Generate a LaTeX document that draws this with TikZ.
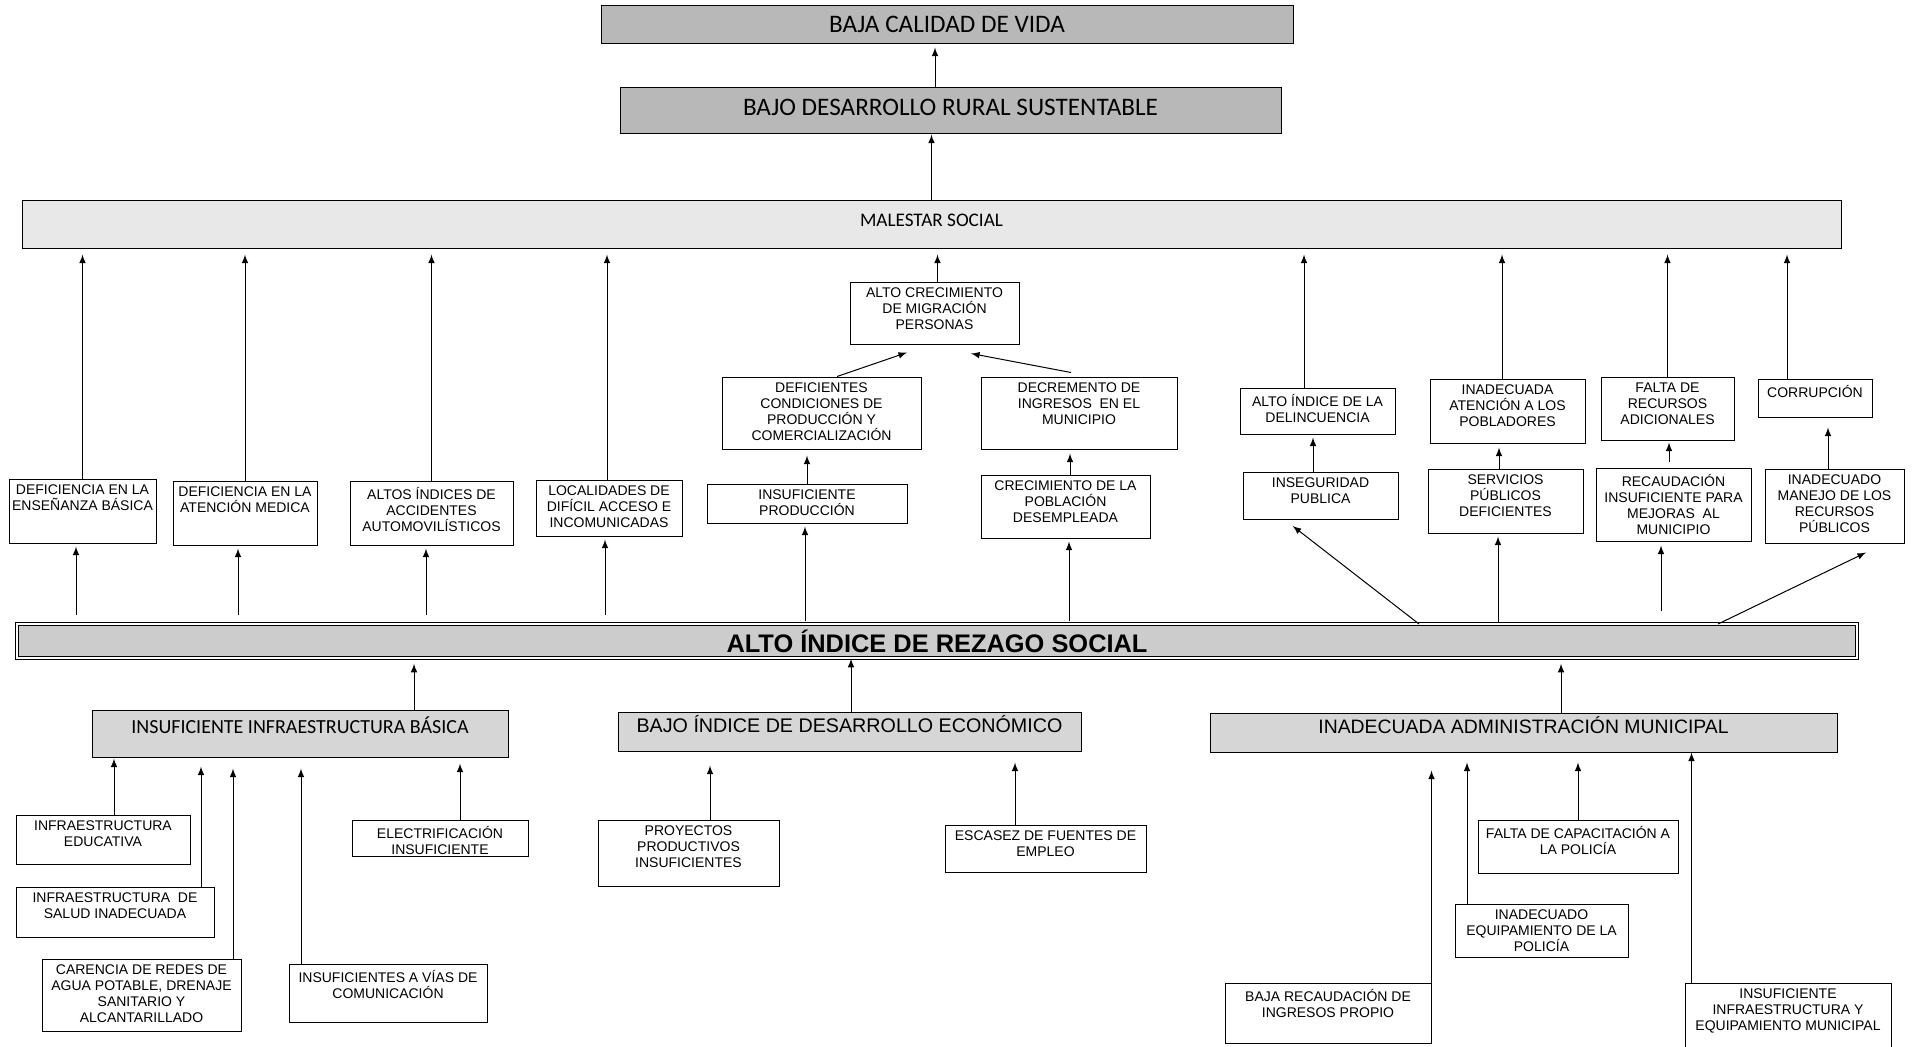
\documentclass[tikz,border=0pt]{standalone}
\usepackage{fontspec}
\setmainfont{Liberation Sans}
\newfontfamily\calibri{Carlito}
\usepackage{tikz}
\usetikzlibrary{arrows,positioning,fit}

\tikzset{
  caja/.style={draw, line width=0.5pt, inner sep=0pt},
  encab/.style={draw, line width=0.5pt, inner sep=0pt},
  texto/.style={anchor=north, align=center, inner sep=3pt, font=\fontsize{7}{8}\selectfont},
  flecha/.style={-latex, line width=0.5pt},
}

\begin{document}
\begin{tikzpicture}[x=0.5pt,y=-0.5pt]
\useasboundingbox (0,0) rectangle (1916,1046);

% efectos
\node[encab, fill=black!28, fit={(601,5) (1293,43)}, label={[font=\calibri\fontsize{12.6}{14}\selectfont]center:BAJA CALIDAD DE VIDA}] (calidad) {};
\node[encab, fill=black!28, fit={(620,87) (1281,133)}, label={[font=\calibri\fontsize{12.6}{14}\selectfont,yshift=1.5pt]center:BAJO DESARROLLO RURAL SUSTENTABLE}] (desarrollo) {};
\node[encab, fill=black!9, fit={(22,200) (1841,248)}, label={[font=\calibri\fontsize{9.6}{11}\selectfont,yshift=2pt]center:MALESTAR SOCIAL}] (malestar) {};

\node[caja, fit={(9,479) (156,543)}, label={[texto]north:{DEFICIENCIA EN LA\\ENSEÑANZA BÁSICA}}] (ensenanza) {};
\node[caja, fit={(173,481) (317,545)}, label={[texto]north:{DEFICIENCIA EN LA\\ATENCIÓN MEDICA}}] (atencion) {};
\node[caja, fit={(350,481) (513,545)}, label={[texto]north:{ALTOS ÍNDICES DE\\ACCIDENTES\\AUTOMOVILÍSTICOS}}] (accidentes) {};
\node[caja, fit={(536,480) (682,536)}, label={[texto]north:{LOCALIDADES DE\\DIFÍCIL ACCESO E\\INCOMUNICADAS}}] (localidades) {};
\node[caja, fit={(707,484) (907,523)}, label={[texto]north:{INSUFICIENTE\\PRODUCCIÓN}}] (insprod) {};
\node[caja, fit={(722,377) (921,449)}, label={[texto]north:{DEFICIENTES\\CONDICIONES DE\\PRODUCCIÓN Y\\COMERCIALIZACIÓN}}] (condiciones) {};
\node[caja, fit={(850,282) (1019,344)}, label={[texto]north:{ALTO CRECIMIENTO\\DE MIGRACIÓN\\PERSONAS}}] (migracion) {};
\node[caja, fit={(981,377) (1177,449)}, label={[texto]north:{DECREMENTO DE\\INGRESOS\ \ EN EL\\MUNICIPIO}}] (decremento) {};
\node[caja, fit={(981,475) (1150,538)}, label={[texto]north:{CRECIMIENTO DE LA\\POBLACIÓN\\DESEMPLEADA}}] (desempleada) {};
\node[caja, fit={(1240,388) (1395,434)}, label={[texto]north:{ALTO ÍNDICE DE LA\\DELINCUENCIA}}] (delincuencia) {};
\node[caja, fit={(1243,472) (1398,519)}, label={[texto]north:{INSEGURIDAD\\PUBLICA}}] (inseguridad) {};
\node[caja, fit={(1430,379) (1585,443)}, label={[texto]north:{INADECUADA\\ATENCIÓN A LOS\\POBLADORES}}] (pobladores) {};
\node[caja, fit={(1428,469) (1583,533)}, label={[texto]north:{SERVICIOS\\PÚBLICOS\\DEFICIENTES}}] (servicios) {};
\node[caja, fit={(1601,377) (1734,440)}, label={[texto]north:{FALTA DE\\RECURSOS\\ADICIONALES}}] (faltarec) {};
\node[caja, fit={(1596,468) (1751,541)}, label={[texto]north:{RECAUDACIÓN\\INSUFICIENTE PARA\\MEJORAS\ \ AL\\MUNICIPIO}}] (recaudacion) {};
\node[caja, fit={(1758,379) (1872,417)}, label={[texto]north:{CORRUPCIÓN}}] (corrupcion) {};
\node[caja, fit={(1765,469) (1904,543)}, label={[texto]north:{INADECUADO\\MANEJO DE LOS\\RECURSOS\\PÚBLICOS}}] (manejo) {};

% problema central
\node[encab, fill=black!20, line width=0.7pt, double, double distance=0.8pt, fit={(17,624) (1857,658)}, label={[font=\bfseries\fontsize{12.7}{14}\selectfont]center:ALTO ÍNDICE DE REZAGO SOCIAL}] (rezago) {};

% causas
\node[encab, fill=black!16, fit={(92,710) (508,757)}, label={[font=\calibri\fontsize{10}{12}\selectfont,yshift=4pt]center:INSUFICIENTE INFRAESTRUCTURA BÁSICA}] (infrab) {};
\node[encab, fill=black!16, fit={(618,712) (1081,751)}, label={[font=\fontsize{9.85}{12}\selectfont,yshift=3.5pt]center:BAJO ÍNDICE DE DESARROLLO ECONÓMICO}] (econ) {};
\node[encab, fill=black!16, fit={(1210,713) (1837,752)}, label={[font=\fontsize{9.7}{12}\selectfont,yshift=3.5pt]center:INADECUADA ADMINISTRACIÓN MUNICIPAL}] (admin) {};

\node[caja, fit={(16,815) (190,864)}, label={[texto]north:{INFRAESTRUCTURA\\EDUCATIVA}}] (educativa) {};
\node[caja, fit={(16,887) (214,937)}, label={[texto]north:{INFRAESTRUCTURA\ \ DE\\SALUD INADECUADA}}] (salud) {};
\node[caja, fit={(42,959) (241,1031)}, label={[texto]north:{CARENCIA DE REDES DE\\AGUA POTABLE, DRENAJE\\SANITARIO Y\\ALCANTARILLADO}}] (carencia) {};
\node[caja, fit={(289,964) (487,1022)}, label={[texto]north:{INSUFICIENTES A VÍAS DE\\COMUNICACIÓN}}] (vias) {};
\node[caja, fit={(352,820) (528,856)}, label={[texto]north:{ELECTRIFICACIÓN\\INSUFICIENTE}}] (electrificacion) {};
\node[caja, fit={(598,820) (779,886)}, label={[texto]north:{PROYECTOS\\PRODUCTIVOS\\INSUFICIENTES}}] (proyectos) {};
\node[caja, fit={(945,825) (1146,872)}, label={[texto]north:{ESCASEZ DE FUENTES DE\\EMPLEO}}] (escasez) {};
\node[caja, fit={(1478,820) (1678,873)}, label={[texto]north:{FALTA DE CAPACITACIÓN A\\LA POLICÍA}}] (capacitacion) {};
\node[caja, fit={(1455,904) (1628,957)}, label={[texto]north:{INADECUADO\\EQUIPAMIENTO DE LA\\POLICÍA}}] (equipamiento) {};
\node[caja, fit={(1225,983) (1431,1043)}, label={[texto]north:{BAJA RECAUDACIÓN DE\\INGRESOS PROPIO}}] (bajarec) {};
\node[caja, fit={(1685,983) (1891,1050)}, label={[texto]north:{INSUFICIENTE\\INFRAESTRUCTURA Y\\EQUIPAMIENTO MUNICIPAL}}] (insufinfra) {};

\coordinate (rzA) at (1419,624);
\coordinate (rzB) at (1718,624);

% flechas superiores
\draw[flecha, shorten >=2pt] ([xshift=-7.75pt]desarrollo.north) -- ([xshift=-7.75pt]desarrollo.north |- calidad.south);
\draw[flecha, shorten >=0.5pt] (malestar.north) -- (malestar.north |- desarrollo.south);
\draw[flecha, shorten >=3pt] (ensenanza.north) -- (ensenanza.north |- malestar.south);
\draw[flecha, shorten >=3pt] (atencion.north) -- (atencion.north |- malestar.south);
\draw[flecha, shorten >=3pt] (accidentes.north) -- (accidentes.north |- malestar.south);
\draw[flecha, shorten >=3pt] ([xshift=-1pt]localidades.north) -- ([xshift=-1pt]localidades.north |- malestar.south);
\draw[flecha, shorten >=3pt] ([xshift=1.5pt]migracion.north) -- ([xshift=1.5pt]migracion.north |- malestar.south);
\draw[flecha, shorten >=3pt] ([xshift=-6.75pt]delincuencia.north) -- ([xshift=-6.75pt]delincuencia.north |- malestar.south);
\draw[flecha, shorten >=3pt] ([xshift=-2.75pt]pobladores.north) -- ([xshift=-2.75pt]pobladores.north |- malestar.south);
\draw[flecha, shorten >=3pt] (faltarec.north) -- (faltarec.north |- malestar.south);
\draw[flecha, shorten >=3pt] ([xshift=-14pt]corrupcion.north) -- ([xshift=-14pt]corrupcion.north |- malestar.south);

\draw[flecha] ([xshift=7.75pt]condiciones.north) -- ([xshift=-13.75pt,yshift=-4pt]migracion.south);
\draw[flecha] ([xshift=-4pt,yshift=2pt]decremento.north) -- ([xshift=18.25pt,yshift=-4.5pt]migracion.south);
\draw[flecha, shorten >=3pt] (insprod.north) -- (insprod.north |- condiciones.south);
\draw[flecha, shorten >=2pt] ([xshift=2.25pt]desempleada.north) -- ([xshift=2.25pt]desempleada.north |- decremento.south);
\draw[flecha, shorten >=1.5pt] ([xshift=-3.75pt]inseguridad.north) -- ([xshift=-3.75pt]inseguridad.north |- delincuencia.south);
\draw[flecha, shorten >=2pt] ([xshift=-3.25pt]servicios.north) -- ([xshift=-3.25pt]servicios.north |- pobladores.south);
\draw[flecha, shorten <=3pt, shorten >=1pt] ([xshift=-2.25pt]recaudacion.north) -- ([xshift=-2.25pt]recaudacion.north |- faltarec.south);
\draw[flecha, shorten >=5pt] ([xshift=-3.25pt]manejo.north) -- ([xshift=-3.25pt]manejo.north |- corrupcion.south);

% desde el rezago
\draw[flecha, shorten <=4pt, shorten >=1.5pt] ([xshift=-3.25pt]ensenanza.south |- rezago.north) -- ([xshift=-3.25pt]ensenanza.south);
\draw[flecha, shorten <=4pt, shorten >=1.5pt] ([xshift=-3.5pt]atencion.south |- rezago.north) -- ([xshift=-3.5pt]atencion.south);
\draw[flecha, shorten <=4pt, shorten >=1.5pt] ([xshift=-2.75pt]accidentes.south |- rezago.north) -- ([xshift=-2.75pt]accidentes.south);
\draw[flecha, shorten <=4pt, shorten >=1.5pt] ([xshift=-2pt]localidades.south |- rezago.north) -- ([xshift=-2pt]localidades.south);
\draw[flecha, shorten <=1pt, shorten >=1.5pt] ([xshift=-1pt]insprod.south |- rezago.north) -- ([xshift=-1pt]insprod.south);
\draw[flecha, shorten <=1pt, shorten >=1.5pt] ([xshift=1.75pt]desempleada.south |- rezago.north) -- ([xshift=1.75pt]desempleada.south);
\draw[flecha, shorten >=2pt] (rzA) -- ([xshift=-15.5pt,yshift=-2pt]inseguridad.south);
\draw[flecha, shorten >=1.5pt] ([xshift=-3.75pt]servicios.south |- rezago.north) -- ([xshift=-3.75pt]servicios.south);
\draw[flecha, shorten <=6pt, shorten >=2pt] ([xshift=-6.25pt]recaudacion.south |- rezago.north) -- ([xshift=-6.25pt]recaudacion.south);
\draw[flecha] (rzB) -- ([xshift=15.75pt,yshift=-4.5pt]manejo.south);

% causas hacia el rezago
\draw[flecha, shorten >=2.5pt] ([xshift=57pt]infrab.north) -- ([xshift=57pt]infrab.north |- rezago.south);
\draw[flecha] ([xshift=0.75pt]econ.north) -- ([xshift=0.75pt]econ.north |- rezago.south);
\draw[flecha, shorten >=2.5pt] ([xshift=18.75pt]admin.north) -- ([xshift=18.75pt]admin.north |- rezago.south);

\draw[flecha, shorten >=0.5pt] ([xshift=5.5pt]educativa.north) -- ([xshift=5.5pt]educativa.north |- infrab.south);
\draw[flecha, shorten >=4.5pt] ([xshift=43pt]salud.north) -- ([xshift=43pt]salud.north |- infrab.south);
\draw[flecha, shorten >=5.5pt] ([xshift=45.75pt]carencia.north) -- ([xshift=45.75pt]carencia.north |- infrab.south);
\draw[flecha, shorten >=5.5pt] ([xshift=-43.5pt]vias.north) -- ([xshift=-43.5pt]vias.north |- infrab.south);
\draw[flecha, shorten >=3pt] ([xshift=10pt]electrificacion.north) -- ([xshift=10pt]electrificacion.north |- infrab.south);
\draw[flecha, shorten >=7pt] ([xshift=10.75pt]proyectos.north) -- ([xshift=10.75pt]proyectos.north |- econ.south);
\draw[flecha, shorten >=5.5pt] ([xshift=-15.25pt]escasez.north) -- ([xshift=-15.25pt]escasez.north |- econ.south);
\draw[flecha, shorten >=5pt] (capacitacion.north) -- (capacitacion.north |- admin.south);
\draw[flecha, shorten >=5pt] ([xshift=-37.25pt]equipamiento.north) -- ([xshift=-37.25pt]equipamiento.north |- admin.south);
\draw[flecha, shorten >=9pt] (bajarec.north east) -- (bajarec.north east |- admin.south);
\draw[flecha] ([xshift=3.5pt]insufinfra.north west) -- ([xshift=3.5pt]insufinfra.north west |- admin.south);

\end{tikzpicture}
\end{document}
